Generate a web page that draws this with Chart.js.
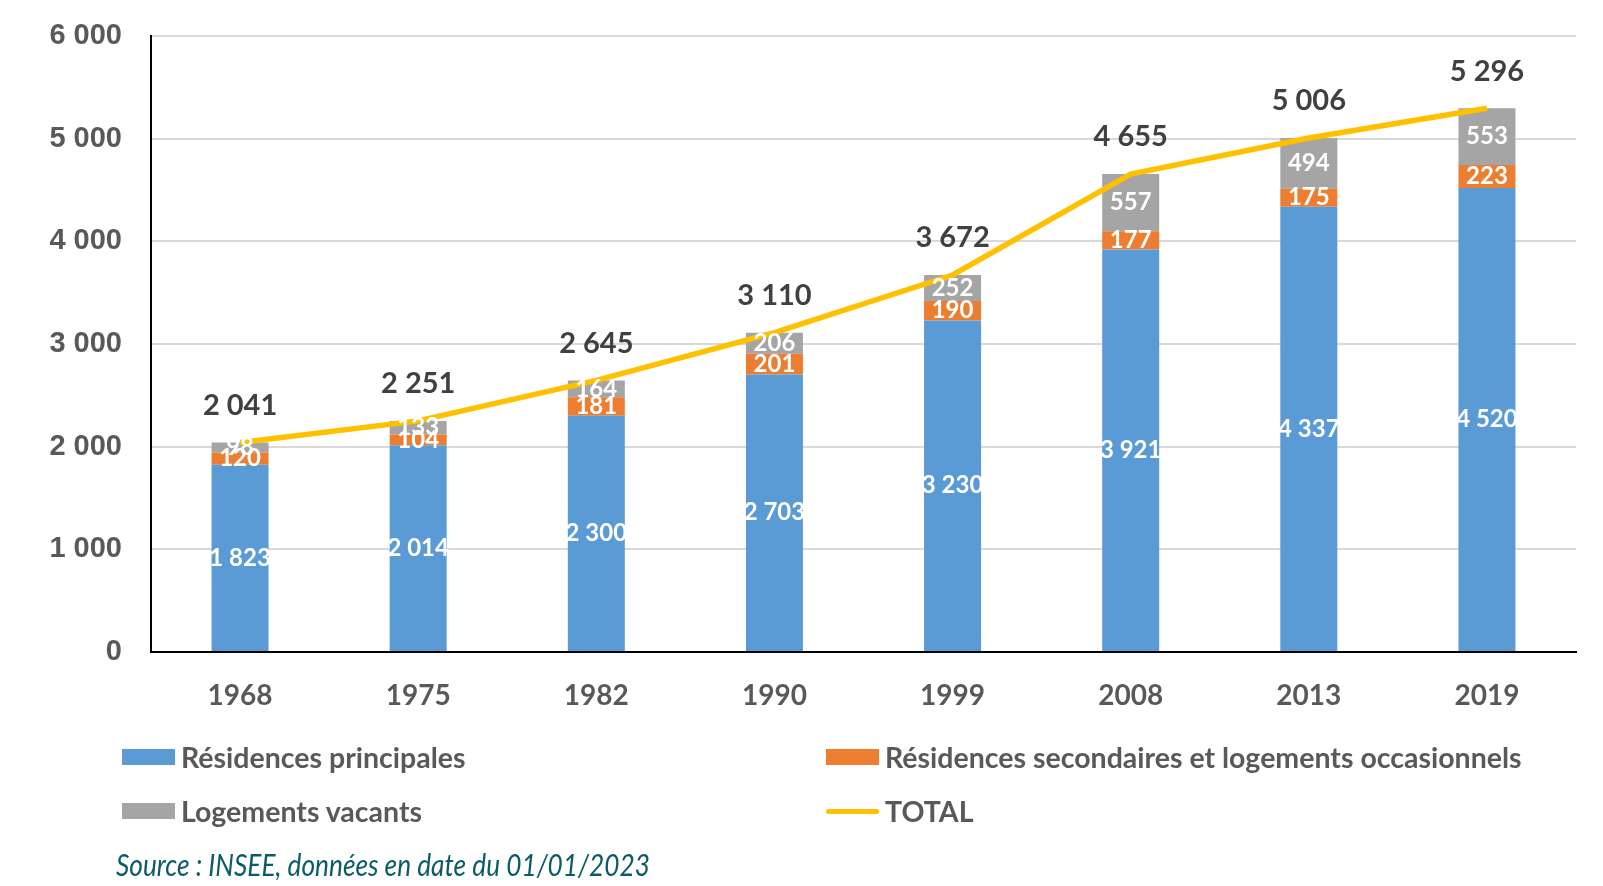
<!DOCTYPE html>
<html>
<head>
<meta charset="utf-8">
<script src="https://cdn.jsdelivr.net/npm/chart.js@4"></script>
<style>
  body { margin: 0; background: #fff; }
  #wrap { position: relative; width: 1603px; height: 886px; }
  #wrap canvas { position: absolute; left: 0; top: 0; }
  .leg { position: absolute; font-family: Lato, sans-serif; font-weight: bold; font-size: 28.5px; color: #595959; white-space: nowrap; line-height: 30px; }
  .sw { position: absolute; width: 53px; height: 16px; }
  .ln { position: absolute; width: 53px; height: 5px; border-radius: 3px; background: #FFC000; }
  #source { position: absolute; left: 116px; top: 846px; font-family: Lato, sans-serif; font-style: italic; font-size: 30px; color: #0b5b66; white-space: nowrap; transform-origin: left center; transform: scaleX(0.875); }
</style>
</head>
<body>
<div id="wrap">
  <canvas id="chart" width="1603" height="886"></canvas>
  <div class="sw" style="left:122px;top:749px;background:#5B9BD5"></div>
  <div class="leg" style="left:181px;top:742px">Résidences principales</div>
  <div class="sw" style="left:826px;top:749px;background:#ED7D31"></div>
  <div class="leg" style="left:885px;top:742px">Résidences secondaires et logements occasionnels</div>
  <div class="sw" style="left:122px;top:803px;background:#A5A5A5"></div>
  <div class="leg" style="left:181px;top:796px">Logements vacants</div>
  <div class="ln" style="left:826px;top:809px"></div>
  <div class="leg" style="left:885px;top:796px">TOTAL</div>
  <div id="source">Source : INSEE, données en date du 01/01/2023</div>
</div>
<script>
const years = ['1968', '1975', '1982', '1990', '1999', '2008', '2013', '2019'];
const principales = [1823, 2014, 2300, 2703, 3230, 3921, 4337, 4520];
const secondaires = [120, 104, 181, 201, 190, 177, 175, 223];
const vacants = [98, 133, 164, 206, 252, 557, 494, 553];
const totals = [2041, 2251, 2645, 3110, 3672, 4655, 5006, 5296];

function fmt(v) {
  return String(v).replace(/\B(?=(\d{3})+(?!\d))/g, ' ');
}

// value labels, drawn by hand since only Chart.js is available
const valueLabels = {
  id: 'valueLabels',
  afterDatasetsDraw(chart) {
    const ctx = chart.ctx;
    ctx.save();
    ctx.textAlign = 'center';
    ctx.textBaseline = 'middle';
    chart.data.datasets.forEach((ds, i) => {
      const meta = chart.getDatasetMeta(i);
      meta.data.forEach((el, j) => {
        if (ds.type === 'line') {
          ctx.fillStyle = '#404040';
          ctx.font = 'bold 29px Lato';
          ctx.fillText(fmt(ds.data[j]), el.x, el.y - 37);
        } else {
          ctx.fillStyle = '#ffffff';
          ctx.font = 'bold 24px Lato';
          ctx.fillText(fmt(ds.data[j]), el.x, (el.y + el.base) / 2);
        }
      });
    });
    ctx.restore();
  }
};

new Chart(document.getElementById('chart'), {
  data: {
    labels: years,
    datasets: [
      { type: 'line', label: 'TOTAL', data: totals, stack: 'total', order: 0,
        borderColor: '#FFC000', borderWidth: 5.5, pointRadius: 0, tension: 0 },
      { type: 'bar', label: 'Résidences principales', data: principales, stack: 's', order: 1,
        backgroundColor: '#5B9BD5' },
      { type: 'bar', label: 'Résidences secondaires et logements occasionnels', data: secondaires, stack: 's', order: 1,
        backgroundColor: '#ED7D31' },
      { type: 'bar', label: 'Logements vacants', data: vacants, stack: 's', order: 1,
        backgroundColor: '#A5A5A5' }
    ]
  },
  options: {
    responsive: false,
    animation: false,
    barPercentage: 0.32,
    categoryPercentage: 1,
    layout: { padding: { left: 0, top: 36, right: 27, bottom: 174 } },
    plugins: { legend: { display: false }, tooltip: { enabled: false } },
    scales: {
      x: {
        stacked: true,
        grid: { display: false, drawTicks: false },
        border: { display: true, color: '#000', width: 2 },
        ticks: { color: '#595959', font: { family: 'Lato', weight: 'bold', size: 28 }, padding: 27 },
        afterFit(s) { s.height = 60; }
      },
      y: {
        stacked: true,
        min: 0,
        max: 6000,
        grid: { color: '#d9d9d9', lineWidth: 2, drawTicks: false },
        border: { display: true, color: '#000', width: 2 },
        ticks: {
          stepSize: 1000,
          color: '#595959',
          padding: 29,
          font: { family: 'Liberation Sans', weight: 'bold', size: 29 },
          callback: (v) => fmt(v)
        },
        afterFit(s) {
          s.width = 151;
          s.paddingTop = 0;
          s.paddingBottom = 0;
        }
      }
    }
  },
  plugins: [valueLabels]
});
</script>
</body>
</html>
